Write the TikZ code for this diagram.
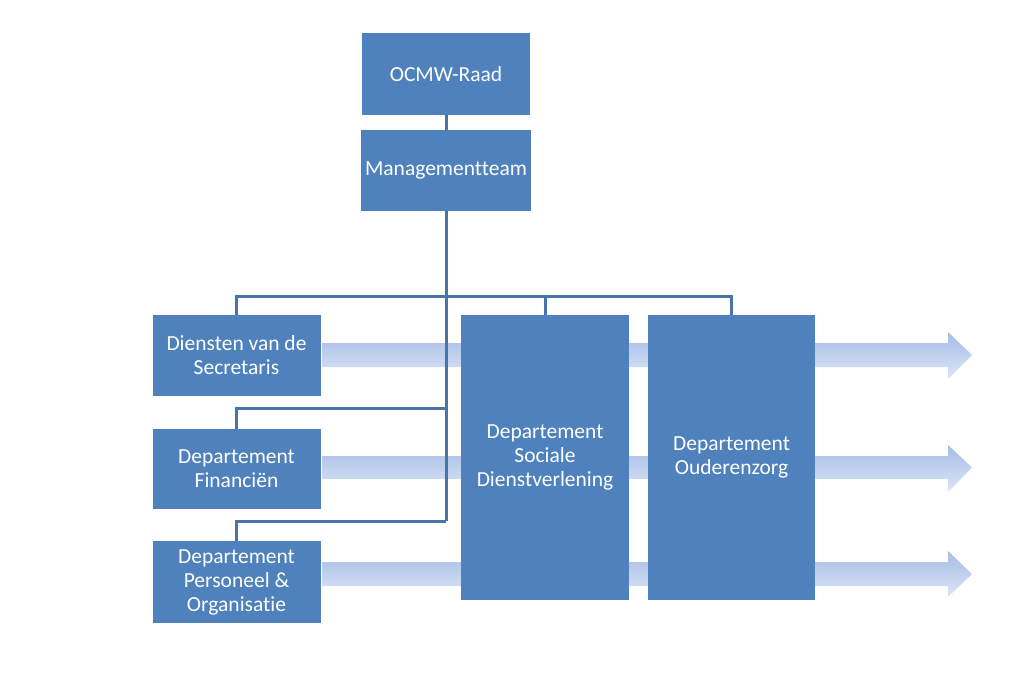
\documentclass[tikz,border=0pt]{standalone}
\usepackage{fontspec}
\setmainfont[Ligatures=NoCommon]{Carlito}
\usetikzlibrary{positioning}
\definecolor{unitblue}{RGB}{79,129,189}
\definecolor{linkblue}{RGB}{72,116,170}
\definecolor{flowtop}{RGB}{166,189,230}
\definecolor{flowbot}{RGB}{220,229,246}
\tikzset{
  unit/.style={fill=unitblue, text=white, font=\fontsize{21.5}{24}\selectfont,
    align=center, inner sep=0pt, minimum width=168pt},
  link/.style={draw=linkblue, line width=3pt},
  flow/.style={top color=flowtop, bottom color=flowbot, draw=none}
}
\begin{document}
\begin{tikzpicture}[x=1pt,y=1pt]
  \useasboundingbox (0,0) rectangle (1016,-674);

  % flow arrows behind the departments
  \foreach \bandtop/\bandbot/\headtop/\headbot in {343/367/332/379, 456/479/445/492, 562/586/551/597}
    \shade[flow] (322,-\bandtop) -- (948,-\bandtop) -- (948,-\headtop)
      -- (972,{-(\bandtop+\bandbot)/2}) -- (948,-\headbot) -- (948,-\bandbot)
      -- (322,-\bandbot) -- cycle;

  % top
  \node[unit, minimum height=82pt] (raad) at (446,-74) {OCMW-Raad};
  \node[unit, minimum width=170pt, minimum height=81pt] (mt) at (446,-170.5) {Managementteam};

  % departments
  \node[unit, minimum height=81pt] (secr) at (236.5,-355.5) {Diensten van de\\Secretaris};
  \node[unit, minimum height=80pt] (fin) at (236.5,-469) {Departement\\Financiën};
  \node[unit, minimum height=82pt] (po) at (236.5,-582) {Departement\\Personeel \&\\Organisatie};
  \node[unit, minimum height=285pt] (soc) at (545,-457.5) {Departement\\Sociale\\Dienstverlening};
  \node[unit, minimum width=167pt, minimum height=285pt] (oud) at (731.5,-457.5) {Departement\\Ouderenzorg};

  % connectors
  \coordinate (bus) at (446,-296);
  \coordinate (finjoin) at (446,-408);
  \coordinate (trunk) at (446,-521);
  \draw[link] (raad) -- (mt);
  \draw[link] (mt.south) -- (trunk);
  \draw[link] (secr.north) |- (bus) -| (oud.north);
  \draw[link] (soc.north) -- (soc.north |- bus);
  \draw[link] (fin.north) |- (finjoin);
  \draw[link] (po.north) |- (trunk);
\end{tikzpicture}
\end{document}
